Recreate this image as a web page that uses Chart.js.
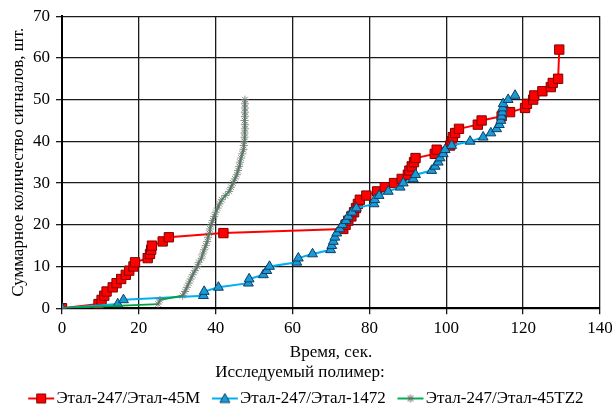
<!DOCTYPE html>
<html>
<head>
<meta charset="utf-8">
<script src="https://cdn.jsdelivr.net/npm/chart.js@4/dist/chart.umd.min.js"></script>
<style>
  html, body { margin: 0; padding: 0; background: #fff; }
  #wrap { width: 612px; height: 412px; }
</style>
</head>
<body>
<div id="wrap"><canvas id="miGrafica"></canvas></div>
<script>
// Этал-247/Этал-45M
var rojoTiempo = [0, 9.5, 10.3, 11, 11.6, 13.2, 14.2, 15.4, 16.6, 17.5, 18.6, 19, 22.3, 22.9, 23.2, 23.4, 26.2, 27.8, 42,
    73.2, 73.8, 74.5, 75.3, 76, 76.5, 77, 77.5, 79.2, 82, 84, 86.4, 88.4, 90, 90.4, 91, 91.6, 92,
    97, 97.5, 101, 101.4, 101.7, 102.3, 103.3, 108.2, 109.2, 114.4, 116.6, 120.5, 121, 122.6, 122.9, 125, 127.2, 127.7, 129.1, 129.4];
var rojoCuenta = [0, 1, 2, 3, 4, 5, 6, 7, 8, 9, 10, 11, 12, 13, 14, 15, 16, 17, 18,
    19, 20, 21, 22, 23, 24, 25, 26, 27, 28, 29, 30, 31, 32, 33, 34, 35, 36,
    37, 38, 39, 40, 41, 42, 43, 44, 45, 46, 47, 48, 49, 50, 51, 52, 53, 54, 55, 62];

// Этал-247/Этал-1472
var azulTiempo = [0, 14.5, 16, 36.8, 37, 40.7, 48.5, 48.7, 52.4, 53.3, 54, 61.1, 61.5, 65.2, 69.9, 70.2, 70.6, 71, 71.5,
    72.3, 73, 73.9, 74.5, 75.5, 76.6, 81.2, 81.4, 82.5, 84.9, 88, 88.8, 91.4, 92, 96.2, 97.1, 97.9, 98.4, 99.2,
    99.7, 101.4, 106.2, 109.6, 111.6, 113.1, 113.8, 114.2, 114.4, 114.6, 114.7, 114.8, 116.1, 117.9];
var azulCuenta = [0, 1, 2, 3, 4, 5, 6, 7, 8, 9, 10, 11, 12, 13, 14, 15, 16, 17, 18,
    19, 20, 21, 22, 23, 24, 25, 26, 27, 28, 29, 30, 31, 32, 33, 34, 35, 36, 37,
    38, 39, 40, 41, 42, 43, 44, 45, 46, 47, 48, 49, 50, 51];

// Этал-247/Этал-45TZ2
var verdeTiempo = [0, 25, 25.5, 31.4, 32, 32.5, 33, 33.5, 34, 34.6, 35.2, 35.6, 36.3, 36.6, 37, 37.4, 37.8, 38, 38.3,
    38.5, 38.8, 39.2, 39.6, 40, 40.5, 41, 41.6, 42.5, 43.5, 44, 44.5, 45, 45.5, 45.8, 46.1, 46.3, 46.6, 46.9,
    47.2, 47.3, 47.4, 47.5, 47.5, 47.6, 47.6, 47.5, 47.6, 47.6, 47.6, 47.6, 47.6];
var verdeCuenta = [0, 1, 2, 3, 4, 5, 6, 7, 8, 9, 10, 11, 12, 13, 14, 15, 16, 17, 18,
    19, 20, 21, 22, 23, 24, 25, 26, 27, 28, 29, 30, 31, 32, 33, 34, 35, 36, 37,
    38, 39, 40, 41, 42, 43, 44, 45, 46, 47, 48, 49, 50];

var nombres = ["Этал-247/Этал-45M", "Этал-247/Этал-1472", "Этал-247/Этал-45TZ2"];
var ticksX = [0, 20, 40, 60, 80, 100, 120, 140];
var ticksY = [0, 10, 20, 30, 40, 50, 60, 70];

var fuente = "'Liberation Serif', 'Times New Roman', serif";

function puntos(xs, ys){
    return xs.map(function(x, i){ return {x: x, y: ys[i]}; });
}

// icono de la leyenda: linea con el marcador en medio
// (la parte izquierda del lienzo queda vacia como separacion)
function icono(colorLinea, forma, relleno, borde){
    var c = document.createElement("canvas");
    c.width = 46; c.height = 14;
    var g = c.getContext("2d");
    var a = 19, b = 45, m = 32;
    g.strokeStyle = colorLinea; g.lineWidth = 2;
    g.beginPath(); g.moveTo(a, 7); g.lineTo(b, 7); g.stroke();
    g.fillStyle = relleno; g.strokeStyle = borde; g.lineWidth = 1;
    g.beginPath();
    if (forma == "rect"){
        g.rect(m - 4.5, 2.5, 9, 9); g.fill(); g.stroke();
    } else if (forma == "triangle"){
        g.moveTo(m, 2); g.lineTo(m + 5, 11); g.lineTo(m - 5, 11); g.closePath(); g.fill(); g.stroke();
    } else {
        g.moveTo(m, 3); g.lineTo(m, 11);
        g.moveTo(m - 4, 7); g.lineTo(m + 4, 7);
        g.moveTo(m - 3, 4); g.lineTo(m + 3, 10);
        g.moveTo(m + 3, 4); g.lineTo(m - 3, 10);
        g.stroke();
    }
    return c;
}

document.addEventListener("DOMContentLoaded", function(){
    var iconos = [
        icono("#ff0000", "rect", "#ff0000", "#800000"),
        icono("#00b0f0", "triangle", "#1a9ad6", "#0b3f66"),
        icono("#00b050", "star", "#666", "#666")
    ];

    var ctx = document.getElementById("miGrafica").getContext("2d");
    new Chart(ctx, {
        type: "scatter",
        data: {
            datasets: [{
                label: nombres[0],
                data: puntos(rojoTiempo, rojoCuenta),
                showLine: true,
                borderColor: "#ff0000",
                borderWidth: 2,
                backgroundColor: "#ff0000",
                pointStyle: "rect",
                pointRadius: 6.6,
                pointBorderColor: "#800000",
                pointBorderWidth: 1,
                order: 3
            }, {
                label: nombres[1],
                data: puntos(azulTiempo, azulCuenta),
                showLine: true,
                borderColor: "#00b0f0",
                borderWidth: 2,
                backgroundColor: "#1a9ad6",
                pointStyle: "triangle",
                pointRadius: 5.7,
                pointBorderColor: "#0b3f66",
                pointBorderWidth: 1,
                order: 2
            }, {
                label: nombres[2],
                data: puntos(verdeTiempo, verdeCuenta),
                showLine: true,
                borderColor: "#00a040",
                borderWidth: 1.8,
                backgroundColor: "#888",
                pointStyle: "star",
                pointRadius: 4,
                pointBorderColor: "#707070",
                pointBorderWidth: 0.8,
                order: 1
            }]
        },
        options: {
            responsive: true,
            maintainAspectRatio: false,
            animation: false,
            layout: { padding: { left: 0, right: 12, top: 5, bottom: -5 } },
            plugins: {
                tooltip: { enabled: false },
                legend: {
                    position: "bottom",
                    title: {
                        display: true,
                        text: "Исследуемый полимер:",
                        color: "#000",
                        font: { family: fuente, size: 17 },
                        padding: { top: 1, bottom: 5.6 }
                    },
                    labels: {
                        color: "#000",
                        font: { family: fuente, size: 17 },
                        usePointStyle: true,
                        pointStyleWidth: 31.5,
                        padding: 0,
                        generateLabels: function(chart){
                            return chart.data.datasets.map(function(ds, i){
                                return {
                                    text: ds.label,
                                    pointStyle: iconos[i],
                                    fillStyle: "transparent",
                                    strokeStyle: "transparent",
                                    lineWidth: 0,
                                    fontColor: "#000",
                                    datasetIndex: i,
                                    hidden: false
                                };
                            });
                        }
                    }
                }
            },
            scales: {
                x: {
                    type: "linear",
                    min: 0, max: 140,
                    afterBuildTicks: function(s){ s.ticks = ticksX.map(function(v){ return {value: v}; }); },
                    afterFit: function(s){ s.paddingRight = 12; },
                    grid: { color: "#1a1a1a", lineWidth: 1.3, tickLength: 6, drawTicks: true },
                    border: { color: "#000", width: 2 },
                    ticks: { color: "#000", font: { family: fuente, size: 17 }, padding: 4, maxRotation: 0 },
                    title: { display: true, text: "Время, сек.", color: "#000", font: { family: fuente, size: 17 }, padding: { top: 0, bottom: 0 } }
                },
                y: {
                    min: 0, max: 70,
                    afterBuildTicks: function(s){ s.ticks = ticksY.map(function(v){ return {value: v}; }); },
                    afterFit: function(s){ s.width = 62; },
                    grid: { color: "#1a1a1a", lineWidth: 1.3, tickLength: 6, drawTicks: true },
                    border: { color: "#000", width: 2 },
                    ticks: { color: "#000", font: { family: fuente, size: 17 }, padding: 6 },
                    title: { display: true, text: "Суммарное количество сигналов, шт.", color: "#000", font: { family: fuente, size: 17 }, padding: { top: 8, bottom: 3 } }
                }
            }
        }
    });
});
</script>
</body>
</html>
